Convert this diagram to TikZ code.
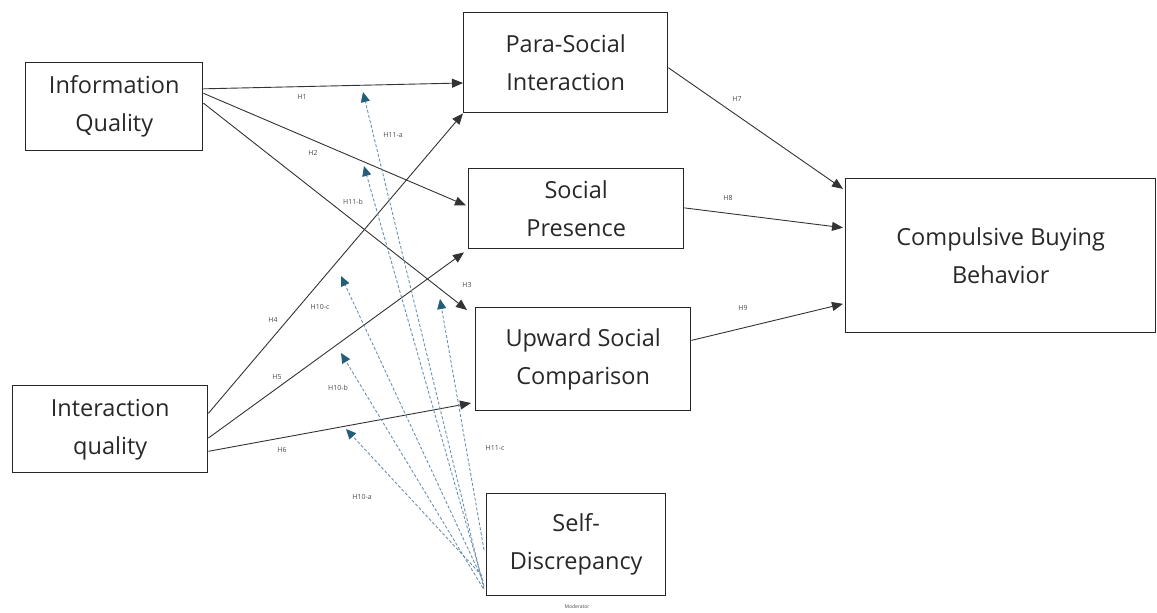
\documentclass[tikz,border=0pt]{standalone}
\usepackage{fontspec}
\setmainfont{Open Sans}
\usetikzlibrary{arrows.meta,calc}
\definecolor{modline}{RGB}{110,145,175}
\definecolor{modtip}{RGB}{35,95,120}
\definecolor{txt}{RGB}{40,40,40}
\tikzset{
  box/.style={draw=black!85, line width=1.4pt, anchor=north west, inner sep=0pt,
    align=center, text=txt, font=\fontsize{23.5}{38}\selectfont},
  link/.style={draw=black!80, line width=0.9pt, -{Triangle[length=11pt,width=9pt]}},
  modarrow/.style={draw=modline, line width=0.9pt, dash pattern=on 3pt off 2pt,
    -{Triangle[length=10pt,width=9pt,color=modtip]}},
  hyp/.style={font=\fontsize{7}{8}\selectfont, text=black!70, inner sep=0pt},
}
\begin{document}
\begin{tikzpicture}[x=1pt,y=-1pt]
\useasboundingbox[fill=white] (0,0) rectangle (1157,613);

% boxes
\node[box, minimum width=177pt, minimum height=88pt] (iq) at (25,62) {Information\\Quality};
\node[box, minimum width=195pt, minimum height=87pt] (inq) at (12,385) {Interaction\\quality};
\node[box, minimum width=204pt, minimum height=100pt] (psi) at (463,12) {Para-Social\\Interaction};
\node[box, minimum width=215pt, minimum height=80pt] (sp) at (468,168) {Social\\Presence};
\node[box, minimum width=215pt, minimum height=103pt] (usc) at (475,307) {Upward Social\\Comparison};
\node[box, minimum width=310pt, minimum height=154pt] (cbb) at (845,178) {Compulsive Buying\\Behavior};
\node[box, minimum width=179pt, minimum height=102pt] (sd) at (486,493) {Self-\\Discrepancy};
\node[hyp, font=\fontsize{5}{6}\selectfont] (modlab) at (577,607) {Moderator};

% direct paths
\draw[link] ($(iq.north east)!0.30!(iq.south east)$) -- ($(psi.north west)!0.70!(psi.south west)$);
\draw[link] ($(iq.north east)!0.35!(iq.south east)$) -- ([xshift=-2pt]$(sp.north west)!0.46!(sp.south west)$);
\draw[link] ($(iq.north east)!0.46!(iq.south east)$) -- ([xshift=-8pt,yshift=-3pt]usc.north west);
\draw[link] ($(inq.north east)!0.32!(inq.south east)$) -- (psi.south west);
\draw[link] ($(inq.north east)!0.60!(inq.south east)$) -- ([xshift=-4pt,yshift=-3pt]sp.south west);
\draw[link] ($(inq.north east)!0.75!(inq.south east)$) -- ([xshift=-4pt]$(usc.north west)!0.92!(usc.south west)$);
\draw[link] ($(psi.north east)!0.55!(psi.south east)$) -- ([xshift=-2pt]$(cbb.north west)!0.07!(cbb.south west)$);
\draw[link] ($(sp.north east)!0.49!(sp.south east)$) -- ([xshift=-2pt]$(cbb.north west)!0.32!(cbb.south west)$);
\draw[link] ($(usc.north east)!0.32!(usc.south east)$) -- ([xshift=-2pt]$(cbb.north west)!0.81!(cbb.south west)$);

% moderator targets
\coordinate (t11a) at (363,92);
\coordinate (t11b) at (364,166);
\coordinate (t11c) at (440,299);
\coordinate (t10c) at (341,276);
\coordinate (t10b) at (341,353);
\coordinate (t10a) at (346,429);

\draw[modarrow] ([xshift=-2pt]$(sd.north west)!0.93!(sd.south west)$) -- (t11a);
\draw[modarrow] ([xshift=-2pt]$(sd.north west)!0.90!(sd.south west)$) -- (t11b);
\draw[modarrow] ([xshift=-2pt]$(sd.north west)!0.55!(sd.south west)$) -- (t11c);
\draw[modarrow] ([xshift=-3pt]$(sd.north west)!0.85!(sd.south west)$) -- (t10c);
\draw[modarrow] ([xshift=-3pt]$(sd.north west)!0.92!(sd.south west)$) -- (t10b);
\draw[modarrow] ([xshift=-4pt]$(sd.north west)!0.80!(sd.south west)$) -- (t10a);

% labels
\node[hyp] (lh1) at (302,97) {H1};
\node[hyp] (lh2) at (313,153) {H2};
\node[hyp] (lh3) at (467,285) {H3};
\node[hyp] (lh4) at (273,320) {H4};
\node[hyp] (lh5) at (277,377) {H5};
\node[hyp] (lh6) at (282,450) {H6};
\node[hyp] (lh7) at (737,99) {H7};
\node[hyp] (lh8) at (728,198) {H8};
\node[hyp] (lh9) at (743,308) {H9};
\node[hyp] (l11a) at (393,135) {H11-a};
\node[hyp] (l11b) at (353,202) {H11-b};
\node[hyp] (l11c) at (495,448) {H11-c};
\node[hyp] (l10c) at (320,307) {H10-c};
\node[hyp] (l10b) at (338,388) {H10-b};
\node[hyp] (l10a) at (362,497) {H10-a};
\end{tikzpicture}
\end{document}
